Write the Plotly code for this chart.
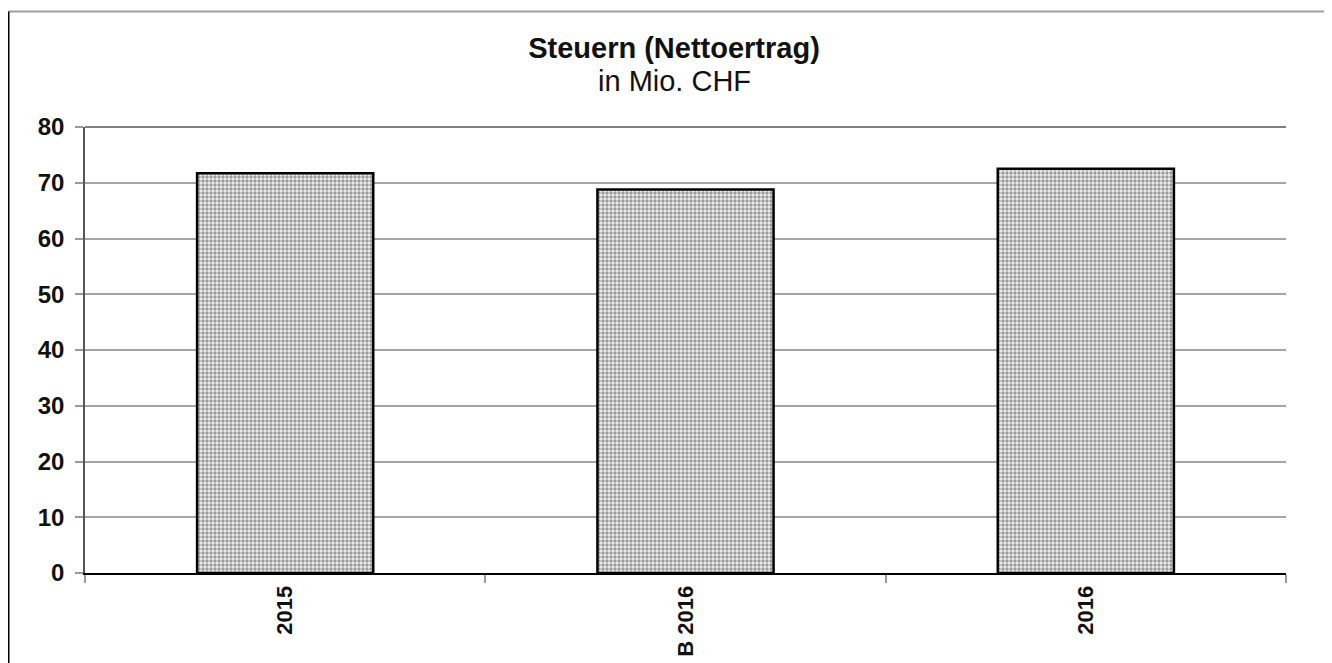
import plotly.graph_objects as go

categories = ["2015", "B 2016", "2016"]
values = [71.7, 68.8, 72.5]
y_ticks = [0, 10, 20, 30, 40, 50, 60, 70, 80]

# page has an 8px body margin; positions below are in figure pixels
W, H = 1332, 663
L, R, T, B = 77, 54, 119, 98
pw, ph = W - L - R, H - T - B

def px_to_paper_x(px):
    return (px - L) / pw

def px_to_paper_y(py):
    return (H - B - py) / ph

fig = go.Figure()
fig.add_trace(go.Bar(
    x=categories, y=values,
    marker=dict(
        color="#eeeeee",
        line=dict(color="black", width=2.5),
        pattern=dict(shape=".", size=4, solidity=0.55, fgcolor="#444444", bgcolor="#f0f0f0"),
    ),
    hoverinfo="skip",
))

font_family = "Liberation Sans, Arial, sans-serif"

fig.update_layout(
    width=W, height=H,
    margin=dict(l=L, r=R, t=T, b=B, autoexpand=False),
    paper_bgcolor="white", plot_bgcolor="white",
    bargap=0.56,
    showlegend=False,
    font=dict(family=font_family, color="black"),
    title=dict(
        text="<b>Steuern (Nettoertrag)</b>",
        x=0.5, xanchor="center", xref="container",
        y=1 - 50 / H, yanchor="bottom", yref="container",
        font=dict(size=29, family=font_family, color="#111111"),
    ),
)

fig.add_annotation(
    text="in Mio. CHF", showarrow=False,
    xref="paper", yref="paper",
    x=px_to_paper_x(W / 2), y=px_to_paper_y(73),
    xanchor="center", yanchor="middle",
    font=dict(size=29, family=font_family, color="#111111"),
)

fig.update_yaxes(
    range=[0, 80], tickvals=y_ticks,
    showgrid=True, gridcolor="#a6a6a6", gridwidth=1.5,
    showline=True, linecolor="#555555", linewidth=1.5,
    ticks="outside", ticklen=8, tickcolor="#999999", tickwidth=1.5,
    tickfont=dict(size=24, family=font_family, color="#111111", weight="bold"),
    zeroline=False,
    ticklabelstandoff=6,
    automargin=False,
)
fig.update_xaxes(
    showline=True, linecolor="black", linewidth=2,
    ticks="outside", ticklen=8, tickcolor="#999999", tickwidth=1.5,
    tickson="boundaries",
    tickangle=-90,
    tickfont=dict(size=22, family=font_family, color="#111111", weight="bold"),
    showgrid=False,
    ticklabelstandoff=2,
    automargin=False,
)

# top plot border line at 80
fig.add_shape(type="line", xref="paper", yref="paper", x0=0, x1=1, y0=1, y1=1,
              line=dict(color="#555555", width=1.5), layer="below")

# chart outer border
xl, xr = px_to_paper_x(0.5), px_to_paper_x(1321)
yt = px_to_paper_y(3.5)
yb = px_to_paper_y(H + 5)
fig.add_shape(type="line", xref="paper", yref="paper", x0=xl, x1=xr, y0=yt, y1=yt,
              line=dict(color="#a0a0a0", width=2))
fig.add_shape(type="line", xref="paper", yref="paper", x0=xl, x1=xl, y0=yt, y1=yb,
              line=dict(color="black", width=2))
fig.add_shape(type="line", xref="paper", yref="paper", x0=xr, x1=xr, y0=yt, y1=yb,
              line=dict(color="#333333", width=2))

fig.write_html("out.html")
